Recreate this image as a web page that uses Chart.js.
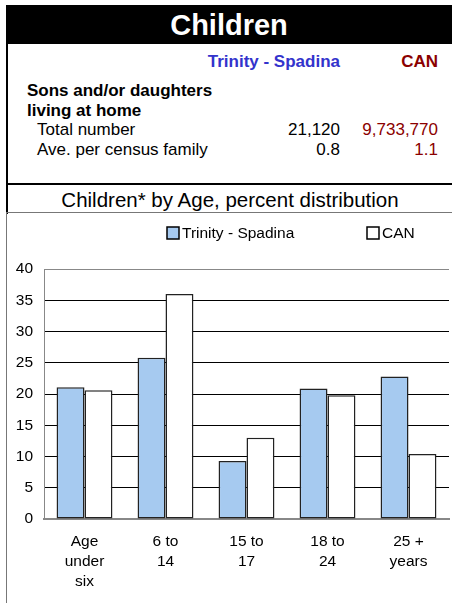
<!DOCTYPE html>
<html>
<head>
<meta charset="utf-8">
<script src="https://cdn.jsdelivr.net/npm/chart.js@4.4.0/dist/chart.umd.min.js"></script>
<style>
    body { margin: 0; width: 452px; height: 603px; overflow: hidden; background: #fff; font-family: "Liberation Sans", Arial, sans-serif; position: relative; }
    .band { position: absolute; left: 6px; top: 5px; width: 446px; height: 39px; background: #000; color: #fff; font-weight: bold; font-size: 29px; text-align: center; line-height: 41px; }
    .edge { position: absolute; left: 6px; top: 44px; width: 2px; height: 170px; background: #000; }
    .edge2 { position: absolute; left: 6px; top: 213px; width: 1px; height: 390px; background: #777; }
    .rule1 { position: absolute; left: 6px; top: 183px; width: 446px; height: 2px; background: #000; }
    .rule2 { position: absolute; left: 6px; top: 212px; width: 446px; height: 1px; background: #777; }
    .t { position: absolute; font-size: 17px; line-height: 20px; white-space: nowrap; }
    .r { text-align: right; }
    .blue { color: #3333cc; font-weight: bold; }
    .red { color: #8b0000; }
    .sub { position: absolute; left: 8px; width: 444px; top: 188px; line-height: 24px; text-align: center; font-size: 20.5px; }
    #wrap { position: absolute; left: 8px; top: 213px; width: 444px; height: 390px; }
</style>
</head>
<body>
<div class="band">Children</div>
<div class="edge"></div>
<div class="t blue r" style="right:112px; top:52px;">Trinity - Spadina</div>
<div class="t red r" style="right:14px; top:52px; font-weight:bold;">CAN</div>
<div class="t" style="left:27px; top:81px; font-weight:bold;">Sons and/or daughters<br>living at home</div>
<div class="t" style="left:37px; top:120px;">Total number</div>
<div class="t r" style="right:112px; top:120px;">21,120</div>
<div class="t red r" style="right:14px; top:120px;">9,733,770</div>
<div class="t" style="left:37px; top:140px;">Ave. per census family</div>
<div class="t r" style="right:112px; top:140px;">0.8</div>
<div class="t red r" style="right:14px; top:140px;">1.1</div>
<div class="rule1"></div>
<div class="sub">Children* by Age, percent distribution</div>
<div class="rule2"></div>
<div class="edge2"></div>
<div id="wrap"><canvas id="c"></canvas></div>
<script>
const ageGroups = [['Age', 'under', 'six'], ['6 to', '14'], ['15 to', '17'], ['18 to', '24'], ['25 +', 'years']];
const trinitySpadina = [21.1, 25.8, 9.3, 20.9, 22.8];
const canada = [20.6, 36.0, 13.0, 19.8, 10.4];
const yTicks = [0, 5, 10, 15, 20, 25, 30, 35, 40];

const FONT_FAMILY = '"Liberation Sans", Arial, sans-serif';
const FONT = { family: FONT_FAMILY, size: 15.5, lineHeight: 1.29 };

// legend drawn in two fixed slots, like the original sheet
const legendSlots = [159, 359];
const spreadLegend = {
    id: 'spreadLegend',
    afterDraw: chart => {
        const ctx = chart.ctx;
        ctx.save();
        ctx.font = `15.5px ${FONT_FAMILY}`;
        ctx.textBaseline = 'middle';
        chart.data.datasets.forEach((ds, i) => {
            const x = legendSlots[i];
            ctx.fillStyle = ds.backgroundColor;
            ctx.fillRect(x, 14, 12, 12);
            ctx.lineWidth = 1.5;
            ctx.strokeStyle = '#000';
            ctx.strokeRect(x, 14, 12, 12);
            ctx.fillStyle = '#000';
            ctx.fillText(ds.label, x + 15, 21);
        });
        ctx.restore();
    }
};

new Chart(document.getElementById('c'), {
    type: 'bar',
    data: {
        labels: ageGroups,
        datasets: [{
            label: 'Trinity - Spadina',
            data: trinitySpadina,
            backgroundColor: '#a6caf0',
            borderColor: '#222',
            borderWidth: 1.5,
            borderSkipped: false
        }, {
            label: 'CAN',
            data: canada,
            backgroundColor: '#fff',
            borderColor: '#222',
            borderWidth: 1.5,
            borderSkipped: false
        }]
    },
    options: {
        responsive: true,
        maintainAspectRatio: false,
        animation: false,
        layout: { padding: { top: 56, right: 3, bottom: 0, left: 0 } },
        datasets: { bar: { categoryPercentage: 0.69, barPercentage: 1.0 } },
        scales: {
            x: {
                afterFit: axis => { axis.height = 84; },
                grid: { display: false, drawTicks: false },
                border: { color: '#888', width: 2 },
                ticks: { color: '#000', font: FONT, padding: 13, maxRotation: 0, autoSkip: false }
            },
            y: {
                min: 0,
                max: 40,
                afterFit: axis => { axis.width = 36; },
                afterBuildTicks: axis => { axis.ticks = yTicks.map(v => ({ value: v })); },
                grid: { color: ctx => (ctx.tick && ctx.tick.value === 40 ? '#888' : '#000'), lineWidth: 1, drawTicks: false },
                border: { color: '#888', width: 1 },
                ticks: { color: '#000', font: { family: FONT_FAMILY, size: 15.5 }, padding: 11 }
            }
        },
        plugins: {
            legend: { display: false },
            tooltip: { enabled: false }
        }
    },
    plugins: [spreadLegend]
});
</script>
</body>
</html>
